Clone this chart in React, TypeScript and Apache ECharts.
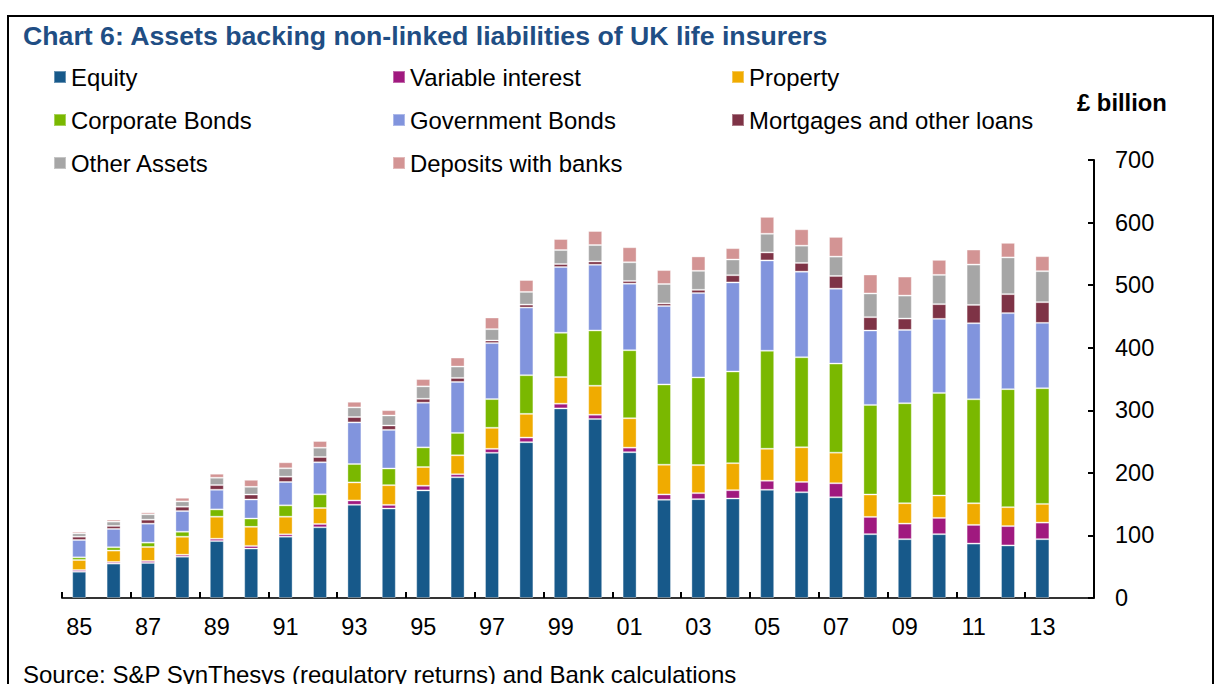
import React, { useEffect, useRef } from "react";
import * as echarts from "echarts";

const years = ["85","86","87","88","89","90","91","92","93","94","95","96","97","98","99","00","01","02","03","04","05","06","07","08","09","10","11","12","13",""];

const equity = [42,55,56,66,91,79,98,113,149,143,172,193,232,249,303,286,233,157,158,159,173,169,161,102,94,102,87,84,94];
const variableInterest = [2.7,2.6,3.2,3.2,3.7,4.3,3.8,5.3,6.9,5.8,7.4,4.8,6.4,7.4,7.5,6.9,7.3,8.5,9.6,13.3,14.4,16.5,22.4,27.6,24.9,26,29.8,30.9,26.5];
const property = [16,18.2,22.3,28.7,35.2,30.4,28.1,25.5,28.8,31.5,29.9,30.3,33.6,37.9,42.6,46.3,47,47.5,44.8,43.2,51.1,55.4,48.9,35.8,32.6,35.8,34.6,30.3,29.9];
const corporateBonds = [4.3,5.3,7,8,11.7,13.3,18.2,21.9,29.4,26.7,31.4,35.7,45.9,61.8,70.8,88.4,108.7,128.3,140.1,146.5,156.7,143.9,142.3,143.2,159.8,164,166.2,188.6,184.9];
const governmentBonds = [27.7,29.3,30.3,33,31.4,30.4,37.3,51.2,66.5,61.7,71.4,81.5,89.5,108,105,105,106.4,125.3,134.8,142.3,144.3,136.8,119.8,118.9,117.2,118.3,121.5,121.5,104.4];
const mortgages = [5.3,4.8,6.4,7,7.5,7.9,8.5,8.4,8.6,7,6.3,6.4,4.1,4.8,4.8,5.3,4.3,4.2,5.2,11.6,12.8,13.9,20.3,21.3,18.1,23.5,29.3,30.3,33.1];
const otherAssets = [5.3,6.9,8.5,8.5,11.7,12.3,13.4,14.9,15.4,16,19.8,18.2,18.2,20.3,22.4,26.2,29.9,31,30.4,25.1,29.8,27.6,30.9,37.9,36.7,46.8,64.5,58.7,49.5];
const deposits = [2.7,3.2,3.2,5.8,6.4,11.2,9.6,10.7,9,8.5,11.7,14.4,18.6,19,17.6,22.4,24,22.3,23,18.1,27,26.2,31.5,30.3,30.4,24,24,23.3,24];

const yTicks = [0, 100, 200, 300, 400, 500, 600, 700];

const seriesDefs = [
  { name: "Equity", data: equity, color: "#17598a" },
  { name: "Variable interest", data: variableInterest, color: "#a0197f" },
  { name: "Property", data: property, color: "#f0ab00" },
  { name: "Corporate Bonds", data: corporateBonds, color: "#7ab800" },
  { name: "Government Bonds", data: governmentBonds, color: "#8194dd" },
  { name: "Mortgages and other loans", data: mortgages, color: "#7e3346" },
  { name: "Other Assets", data: otherAssets, color: "#a6a6a6" },
  { name: "Deposits with banks", data: deposits, color: "#d39494" },
];

const FONT = "'Liberation Sans', Arial, Helvetica, sans-serif";

// legend positions: [name, left, centerY]
const legendLayout: [string, number, number][] = [
  ["Equity", 53, 77],
  ["Variable interest", 392, 77],
  ["Property", 731, 77],
  ["Corporate Bonds", 53, 120],
  ["Government Bonds", 392, 120],
  ["Mortgages and other loans", 731, 120],
  ["Other Assets", 53, 163],
  ["Deposits with banks", 392, 163],
];

export default function App() {
  const ref = useRef<HTMLDivElement>(null);
  useEffect(() => {
    if (!ref.current) return;
    const chart = echarts.init(ref.current, null, { renderer: "svg" });
    const option: any = {
      animation: false,
      backgroundColor: "#ffffff",
      textStyle: { fontFamily: FONT },
      title: {
        text: "Chart 6: Assets backing non-linked liabilities of UK life insurers",
        left: 23,
        top: 22,
        padding: 0,
        textStyle: { fontFamily: FONT, fontSize: 26.7, fontWeight: "bold", color: "#1f4e84" },
      },
      legend: legendLayout.map(([name, left, cy]) => ({
        data: [name],
        left,
        top: cy - 12,
        padding: 0,
        itemWidth: 12,
        itemHeight: 12,
        itemGap: 5,
        icon: "rect",
        selectedMode: false,
        textStyle: { fontFamily: FONT, fontSize: 23.9, color: "#000", lineHeight: 24 },
      })),
      grid: { left: 62, right: 136, top: 160, bottom: 86, containLabel: false },
      xAxis: {
        type: "category",
        data: years,
        boundaryGap: true,
        axisLine: { show: true, lineStyle: { color: "#333", width: 2 } },
        axisTick: { show: true, inside: true, length: 6, interval: 1, lineStyle: { color: "#000", width: 2 } },
        axisLabel: { interval: 1, margin: 17, fontFamily: FONT, fontSize: 23.5, color: "#000" },
        splitLine: { show: false },
      },
      yAxis: {
        type: "value",
        position: "right",
        min: yTicks[0],
        max: yTicks[yTicks.length - 1],
        interval: 100,
        axisLine: { show: true, lineStyle: { color: "#000", width: 2 } },
        axisTick: { show: true, inside: true, length: 6, lineStyle: { color: "#000", width: 2 } },
        axisLabel: { margin: 21, align: "left", fontFamily: FONT, fontSize: 23.5, color: "#000" },
        splitLine: { show: false },
      },
      graphic: [
        {
          type: "polyline",
          shape: { points: [[8, 700], [8, 16], [1213, 16], [1213, 700]] },
          style: { stroke: "#000", lineWidth: 2, fill: "none" },
          silent: true,
        },
        {
          type: "text",
          x: 1077,
          y: 102,
          style: { text: "£ billion", fontFamily: FONT, fontSize: 23.8, fontWeight: "bold", fill: "#000", verticalAlign: "middle" },
        },
        {
          type: "text",
          x: 23,
          y: 674,
          style: { text: "Source: S&P SynThesys (regulatory returns) and Bank calculations", fontFamily: FONT, fontSize: 24, fill: "#000", verticalAlign: "middle" },
        },
      ],
      series: seriesDefs.map((s) => ({
        name: s.name,
        type: "bar",
        stack: "total",
        barWidth: 14,
        data: s.data,
        itemStyle: { color: s.color, borderColor: "rgba(255,255,255,0.35)", borderWidth: 1 },
        emphasis: { disabled: true },
      })),
    };
    chart.setOption(option);
    return () => chart.dispose();
  }, []);
  return (
    <div
      ref={ref}
      style={{ position: "fixed", left: 0, top: 0, width: 1230, height: 684 }}
    />
  );
}
